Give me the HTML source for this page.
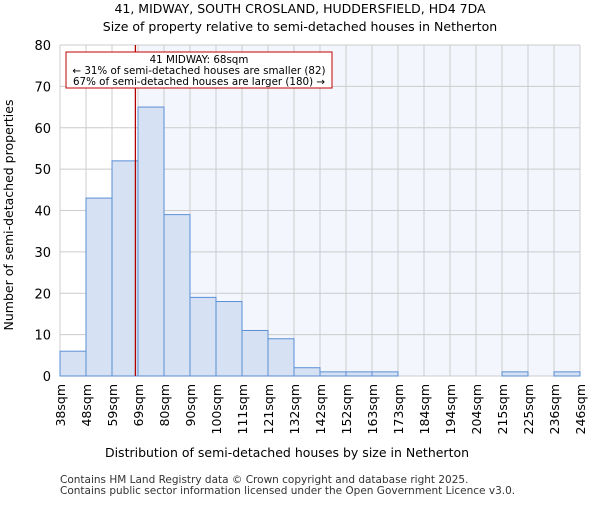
<!DOCTYPE html>
<html><head><meta charset="utf-8"><style>
body{margin:0;background:#fff;font-family:"Liberation Sans","DejaVu Sans",sans-serif}
svg text{font-family:"DejaVu Sans","Liberation Sans",sans-serif}
</style></head><body>
<svg id="c" width="600" height="500" xmlns="http://www.w3.org/2000/svg">
<text x="300" y="13" text-anchor="middle" font-size="12.5">41, MIDWAY, SOUTH CROSLAND, HUDDERSFIELD, HD4 7DA</text>
<text x="300" y="31" text-anchor="middle" font-size="12.5">Size of property relative to semi-detached houses in Netherton</text>
<g id="plot"></g>
<text x="287" y="457" text-anchor="middle" font-size="12.5">Distribution of semi-detached houses by size in Netherton</text>
<text transform="translate(13,215) rotate(-90)" text-anchor="middle" font-size="12.5">Number of semi-detached properties</text>
<text x="60" y="483" font-size="10.5" fill="#333">Contains HM Land Registry data © Crown copyright and database right 2025.</text>
<text x="60" y="494" font-size="10.5" fill="#333">Contains public sector information licensed under the Open Government Licence v3.0.</text>
</svg>
<script>
const labels=["38sqm","48sqm","59sqm","69sqm","80sqm","90sqm","100sqm","111sqm","121sqm","132sqm","142sqm","152sqm","163sqm","173sqm","184sqm","194sqm","204sqm","215sqm","225sqm","236sqm","246sqm"];
const counts=[6,43,52,65,39,19,18,11,9,2,1,1,1,0,0,0,0,1,0,1];
const yTicks=[0,10,20,30,40,50,60,70,80];
const propertyPos=2.9;
const NS="http://www.w3.org/2000/svg";
const L=60,R=580,T=45,B=376,yMax=80;
const bw=(R-L)/counts.length;
const xs=i=>L+i*bw;
const ys=v=>B-(v/yMax)*(B-T);
const g=document.getElementById('plot');
function mk(t,a){const e=document.createElementNS(NS,t);for(const k in a)e.setAttribute(k,a[k]);g.appendChild(e);return e;}
const px=xs(propertyPos);
const sx=xs(Math.ceil(propertyPos));
let e=mk('rect',{x:sx,y:T,width:R-sx,height:B-T,fill:'#f3f6fd'});


for(let i=0;i<labels.length;i++){e=mk('line',{x1:xs(i),x2:xs(i),y1:T,y2:B,stroke:'#ccc','stroke-width':1});

}
yTicks.forEach(v=>{e=mk('line',{x1:L,x2:R,y1:ys(v),y2:ys(v),stroke:'#ccc','stroke-width':1});


e=mk('text',{x:L-9,y:ys(v)+5,'text-anchor':'end','font-size':13});e.textContent=v;

});
counts.forEach((c,i)=>{if(c<=0)return;e=mk('rect',{x:xs(i),y:ys(c),width:bw,height:B-ys(c),fill:'#d6e1f3',stroke:'#5b8fd6','stroke-width':1});

});
labels.forEach((l,i)=>{e=mk('text',{transform:`translate(${xs(i)+5},384) rotate(-90)`,'text-anchor':'end','font-size':12.5});e.textContent=l;

});
e=mk('line',{x1:px,x2:px,y1:T,y2:B,stroke:'#b00000','stroke-width':1.3});


e=mk('rect',{x:66,y:52,width:266,height:36,fill:'#fff',stroke:'#c00000','stroke-width':1});


[["41 MIDWAY: 68sqm",63],["← 31% of semi-detached houses are smaller (82)",74],["67% of semi-detached houses are larger (180) →",85]].forEach(([t,y])=>{e=mk('text',{x:199,y:y,'text-anchor':'middle','font-size':10.3});e.textContent=t;

});
</script>
</body></html>
